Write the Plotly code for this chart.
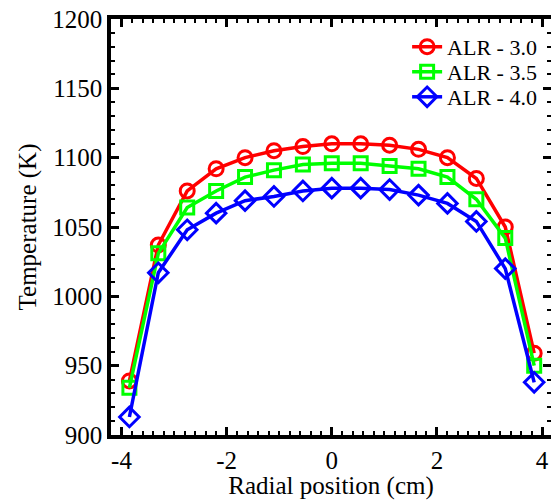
import plotly.graph_objects as go

radial_position = [-3.85, -3.3, -2.75, -2.2, -1.65, -1.1, -0.55, 0.0, 0.55, 1.1, 1.65, 2.2, 2.75, 3.3, 3.85]
temp_alr_30 = [939, 1037, 1076, 1092, 1100, 1105, 1108, 1110, 1110, 1109, 1106, 1100, 1085, 1050, 959]
temp_alr_35 = [934, 1031, 1064, 1076, 1086, 1091, 1095, 1096, 1096, 1094, 1092, 1086, 1070, 1042, 950]
temp_alr_40 = [913, 1017, 1048, 1060, 1069, 1072, 1076, 1078, 1078, 1077, 1073, 1067, 1054, 1020, 938]
series_names = ["ALR - 3.0", "ALR - 3.5", "ALR - 4.0"]
x_tick_labels = ["-4", "-2", "0", "2", "4"]
y_tick_labels = ["900", "950", "1000", "1050", "1100", "1150", "1200"]

colors = ["#ff0000", "#00ff00", "#0000ff"]
symbols = ["circle-open", "square-open", "diamond-open"]
sizes = [14, 13, 15]
legend_ids = ["legend", "legend2", "legend3"]
legend_y = [0.933, 0.873, 0.8125]

font_family = "Liberation Serif, Times New Roman, serif"

fig = go.Figure()
for name, ys, c, s, sz, lid in zip(series_names, [temp_alr_30, temp_alr_35, temp_alr_40], colors, symbols, sizes, legend_ids):
    fig.add_trace(go.Scatter(
        x=radial_position, y=ys, name=name, mode="lines+markers",
        line=dict(color=c, width=3.5),
        marker=dict(symbol=s, size=sz, color=c, line=dict(color=c, width=3)),
        legend=lid,
    ))

legend_common = dict(x=0.673, xanchor="left", yanchor="middle",
                     bgcolor="rgba(0,0,0,0)", borderwidth=0,
                     font=dict(family=font_family, size=22, color="black"))

axis_common = dict(
    showgrid=False, zeroline=False, showline=True, linecolor="black", linewidth=3.5,
    mirror="ticks", ticks="inside", ticklen=8, tickwidth=3, tickcolor="black",
    tickfont=dict(family=font_family, size=25, color="black"), automargin=False,
)
fig.update_layout(
    width=551, height=500,
    margin=dict(l=111, r=0, t=19, b=65, autoexpand=False),
    paper_bgcolor="white", plot_bgcolor="white",
    font=dict(family=font_family, color="black"),
    showlegend=True,
    legend=dict(**legend_common, y=legend_y[0]),
    legend2=dict(**legend_common, y=legend_y[1]),
    legend3=dict(**legend_common, y=legend_y[2]),
)
fig.update_xaxes(
    **axis_common, range=[-4.2, 4.17],
    tickmode="array", tickvals=[float(v) for v in x_tick_labels], ticktext=x_tick_labels,
    minor=dict(ticks="inside", ticklen=4, tickwidth=2, tickcolor="black", dtick=0.2, tick0=0),
    title=dict(text="Radial position (cm)", font=dict(family=font_family, size=25), standoff=0),
)
fig.update_yaxes(
    **axis_common, range=[900, 1200],
    tickmode="array", tickvals=[float(v) for v in y_tick_labels], ticktext=y_tick_labels,
    minor=dict(ticks="inside", ticklen=4, tickwidth=2, tickcolor="black", dtick=10, tick0=900),
    title=dict(text="Temperature (K)", font=dict(family=font_family, size=25), standoff=10),
)
fig.write_html("out.html", config={"displayModeBar": False},
               post_script="document.body.style.margin='0';document.body.style.overflow='hidden';")
